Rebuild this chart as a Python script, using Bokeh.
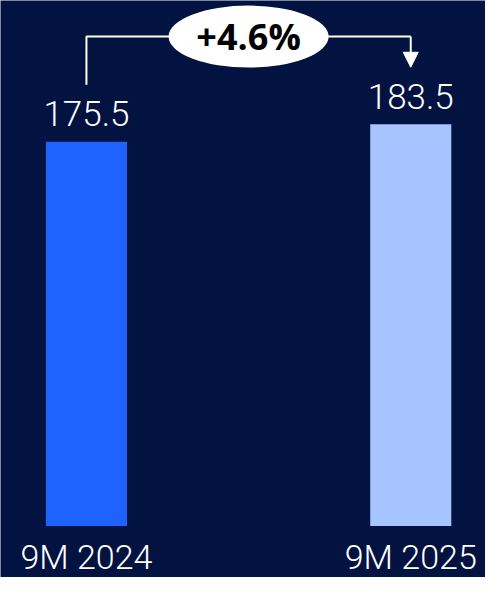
from bokeh.plotting import figure
from bokeh.models import Range1d, ColumnDataSource, Arrow, NormalHead
from bokeh.core.properties import value
from bokeh.embed import file_html
from bokeh.resources import INLINE

# ---- data ----
categories = ["9M 2024", "9M 2025"]
values = [175.5, 183.5]
value_labels = ["175.5", "183.5"]
change_label = "+4.6%"
bar_colors = ["#1F63FF", "#A6C4FF"]

BG = "#021241"
xs = list(range(len(categories)))

p = figure(width=485, height=577, output_backend="svg", toolbar_location=None,
           x_range=Range1d(-0.265, 1.2305), y_range=Range1d(-23.56, 240),
           x_axis_type=None, y_axis_type=None, min_border=0)
p.background_fill_color = BG
p.border_fill_color = BG
p.outline_line_color = None
p.grid.visible = False

src = ColumnDataSource(dict(x=xs, top=values, cat=categories,
                            lab=value_labels, color=bar_colors))
p.vbar(x="x", top="top", bottom=0, width=0.25, fill_color="color",
       line_color=None, source=src)

LIGHT = value("Roboto Light")
p.text(x="x", y="top", text="lab", source=src, text_align="center",
       text_baseline="middle", y_offset=-28, text_font=LIGHT,
       text_font_size="35px", text_color="white")
p.text(x="x", y=0, text="cat", source=src, text_align="center",
       text_baseline="middle", y_offset=31, text_font=LIGHT,
       text_font_size="34px", text_color="white")

# connector
gap = 26
top_level = max(values) + 40
p.line(x=[xs[0], xs[0], xs[1]], y=[values[0] + gap, top_level, top_level],
       line_color="white", line_width=2)
p.add_layout(Arrow(x_start=xs[1], y_start=top_level, x_end=xs[1],
                   y_end=values[1] + gap,
                   end=NormalHead(size=15, fill_color="white", line_color="white"),
                   line_color="white", line_width=2))

mid = (xs[0] + xs[1]) / 2
p.ellipse(x=[mid], y=[top_level], width=160, height=62, width_units="screen",
          height_units="screen", fill_color="white", line_color=None)
p.text(x=[mid], y=[top_level], text=[change_label], text_align="center",
       text_baseline="middle", text_font=value("Open Sans"),
       text_font_style="bold", text_font_size="36px", text_color="black")

open("out.html", "w").write(file_html(p, INLINE))
